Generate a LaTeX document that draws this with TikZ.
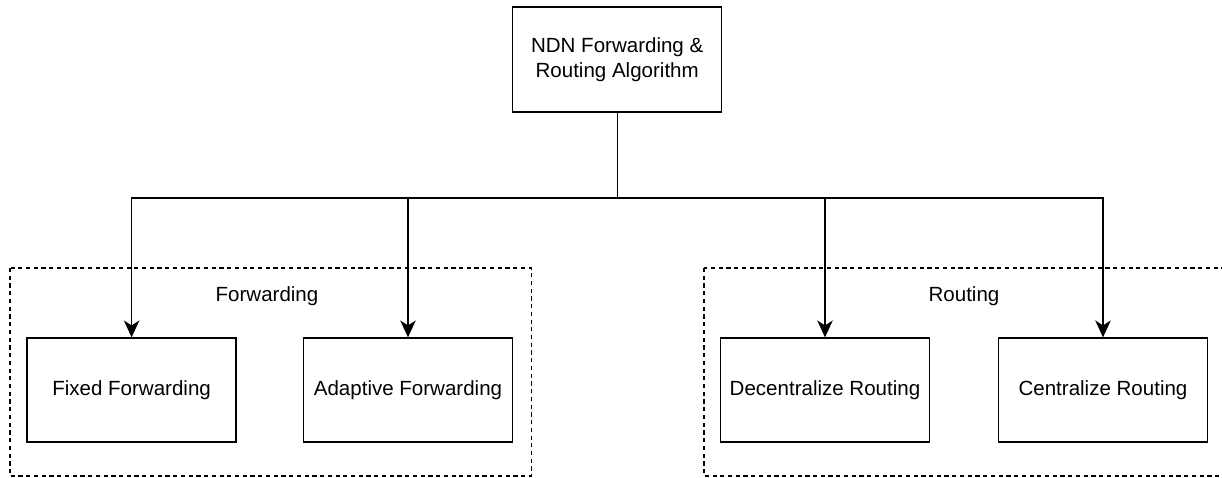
\documentclass[tikz,border=0pt]{standalone}
\usepackage{fontspec}
\setmainfont{Liberation Sans}
\usetikzlibrary{arrows.meta}
\begin{document}
\begin{tikzpicture}[
    box/.style={draw, rectangle, line width=0.9pt, minimum width=5.225cm, minimum height=2.6cm, align=center, font=\fontsize{14.6}{18}\selectfont},
    group/.style={draw, dash pattern=on 3pt off 2.5pt, line width=0.8pt},
    grouplabel/.style={font=\fontsize{14.6}{18}\selectfont},
    arrow/.style={line width=1pt, -{Stealth[length=12pt,width=11pt,inset=3.5pt]}},
    link/.style={line width=1pt}
]
\path[use as bounding box, clip] (0,0) rectangle (30.55,-11.925);
% dashed groups
\draw[group] (0.25,-6.7) rectangle (13.28,-11.9);
\draw[group] (17.6,-6.7) rectangle (31,-11.9);
\node[grouplabel] (fwdlabel) at (6.675,-7.4) {Forwarding};
\node[grouplabel] (routelabel) at (24.1,-7.4) {Routing};
% boxes
\node[box, minimum height=2.625cm] (algo) at (15.43,-1.49) {NDN Forwarding \&\\Routing Algorithm};
\node[box] (fixed) at (3.29,-9.75) {Fixed Forwarding};
\node[box] (adaptive) at (10.2,-9.75) {Adaptive Forwarding};
\node[box] (decentral) at (20.625,-9.75) {Decentralize Routing};
\node[box] (central) at (27.575,-9.75) {Centralize Routing};
\coordinate (bus) at (15.43,-4.95);
\draw[link] (algo) -- (bus);
\draw[arrow] (bus) -| (fixed);
\draw[arrow] (bus) -| (adaptive);
\draw[arrow] (bus) -| (decentral);
\draw[arrow] (bus) -| (central);
\end{tikzpicture}
\end{document}
